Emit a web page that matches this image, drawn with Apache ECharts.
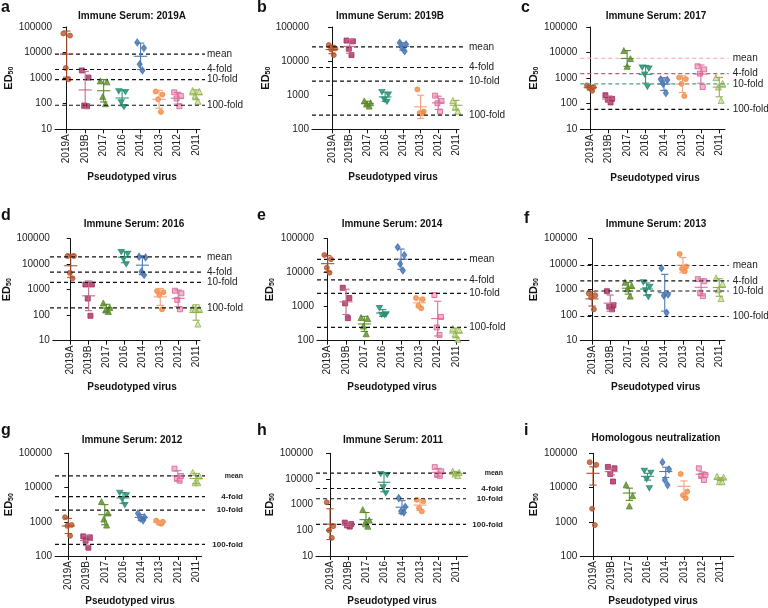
<!DOCTYPE html>
<html>
<head>
  <meta charset="utf-8" />
  <title>ED50 neutralization panels</title>
  <script src="https://cdn.jsdelivr.net/npm/echarts@6/dist/echarts.min.js"></script>
  <style>
    html, body { margin: 0; padding: 0; background: #fff; }
    #main { width: 768px; height: 608px; }
  </style>
</head>
<body>
  <div id="main"></div>
  <script type="text/javascript">
    const viruses = ['2019A', '2019B', '2017', '2016', '2014', '2013', '2012', '2011'];
    const panelLetters = ['a', 'b', 'c', 'd', 'e', 'f', 'g', 'h', 'i'];
    const panelTitles = ['Immune Serum: 2019A', 'Immune Serum: 2019B', 'Immune Serum: 2017',
      'Immune Serum: 2016', 'Immune Serum: 2014', 'Immune Serum: 2013',
      'Immune Serum: 2012', 'Immune Serum: 2011', 'Homologous neutralization'];
    const refLabels = ['mean', '4-fold', '10-fold', '100-fold'];
    const refFolds = [1, 4, 10, 100];
    // homologous mean per serum panel (null = no reference lines)
    const refMeans = [8700, 26000, 6000, 19500, 24700, 8900, 21800, 17000, null];

    // ED50 per pseudotyped virus (same order as viruses)
    const serum2019A = [[56000, 46000, 2500, 900], [2000, 1050, 85, 80], [780, 720, 190, 100], [310, 290, 115, 75],
      [25000, 15000, 3500, 2000], [300, 230, 150, 48], [280, 200, 160, 80], [330, 300, 205, 124]];
    const serum2019B = [[29500, 23500, 22000, 15000], [40000, 38000, 23000, 15000], [680, 600, 550, 480], [1250, 1050, 750, 640],
      [34500, 31000, 25000, 19500], [1480, 330, 300, 295], [970, 680, 580, 330], [700, 620, 450, 340]];
    const serum2017 = [[520, 450, 420, 320], [215, 155, 145, 112], [12000, 5800, 2900], [2600, 2400, 1400, 460],
      [900, 850, 600, 260], [1050, 920, 600, 200], [2900, 2200, 1500, 450], [1050, 620, 450, 135]];
    const serum2016 = [[21000, 21000, 4600, 2800], [1600, 1600, 450, 95], [300, 200, 160, 140], [30000, 26000, 16000, 10000],
      [19700, 18500, 5100, 3800], [890, 800, 620, 170], [910, 720, 400, 170], [190, 180, 170, 45]];
    const serum2014 = [[33000, 25000, 14000, 10000], [3600, 1800, 1250, 460], [480, 450, 270, 160], [920, 600, 580, 570],
      [56000, 33000, 18000, 11700], [1800, 1650, 1070, 900], [2200, 500, 245, 148], [230, 205, 158, 110]];
    const serum2013 = [[720, 600, 500, 170], [870, 245, 215, 170], [1950, 1450, 1080, 560], [1950, 1300, 960, 520],
      [7000, 650, 590, 125], [25000, 8100, 6500, 5300], [2600, 2150, 760, 560], [2900, 1700, 1000, 450]];
    const serum2012 = [[1350, 810, 760, 390], [375, 350, 280, 175], [3900, 1800, 1200, 800], [7100, 6000, 4600, 3100],
      [1750, 1350, 1250, 1100], [1080, 1000, 930, 880], [35600, 21700, 18600, 15800], [27500, 21700, 13800, 13800]];
    const serum2011 = [[1240, 145, 100, 51], [200, 175, 155, 140], [640, 250, 200, 145], [15800, 14500, 4800, 2800],
      [1800, 820, 550, 500], [1550, 1350, 740, 550], [29000, 19700, 14500, 13200], [20000, 18000, 15500, 13500]];
    const homologous = [[55000, 46000, 2400, 800], [40000, 36500, 25000, 15000], [12000, 5800, 2900], [31000, 27000, 17500, 9600],
      [55000, 34000, 16600, 11800], [25000, 7600, 6000, 4900], [36500, 23300, 21700, 16600], [21000, 20000, 14800, 14800]];

    const panelData = [serum2019A, serum2019B, serum2017, serum2016, serum2014, serum2013, serum2012, serum2011, homologous];
    const yMins = [10, 100, 10, 10, 100, 10, 100, 10, 100];

    // styling
    const FONT = '"Liberation Sans", Arial, sans-serif';
    const pointColors = ['#b4572e', '#a52a5e', '#5b8a2b', '#1e8c6e', '#3d6fb2', '#f28a3a', '#d95c90', '#8db24a'];
    const pointFills = ['#b4572e', '#a52a5e', '#5b8a2b', '#1e8c6e', '#3d6fb2', '#f28a3a', '#efa3c2', '#c9de98'];
    const barColors = ['#b0502a', '#c26a8c', '#5b8a2b', '#35907a', '#5078b0', '#f3a07e', '#d8709a', '#90b050'];
    const symbols = ['circle', 'rect', 'triangle', 'path://M0,0L10,0L5,9Z', 'diamond', 'circle', 'rect', 'triangle'];
    const symbolSizes = [5, 5, 6, [6, 5], [5, 7], 5, 5, 6];
    const jitter = [-0.18, 0.18, -0.05, 0.1];
    const refColorsC = ['#f7a1b5', '#e8457a', '#4ca07a', '#000'];

    // pixel layout of each panel
    const layout = [
      { L: 55, R: 200, c0: 66.7, c7: 196, T: 27, B: 129.3, gap: 37, lineEnd: 205, labX: 207, tx: 132, ty: 16, lx: 1, ly: 7.5, nx: 132, ny: 177 },
      { L: 312, R: 459, c0: 332, c7: 456, T: 27, B: 129.3, gap: 38, lineEnd: 464, labX: 469, tx: 390, ty: 16, lx: 257, ly: 7.5, nx: 393, ny: 177.7 },
      { L: 580.3, R: 725, c0: 590.3, c7: 719.3, T: 27, B: 129.3, gap: 40, lineEnd: 728.7, labX: 732.7, tx: 656, ty: 16, lx: 521, ly: 7.5, nx: 655, ny: 178 },
      { L: 50, R: 200, c0: 68.3, c7: 196, T: 238.7, B: 340.7, gap: 32, lineEnd: 204, labX: 207, tx: 134, ty: 224.3, lx: 1, ly: 215.5, nx: 132, ny: 387.7 },
      { L: 317, R: 469, c0: 327.7, c7: 456, T: 238.7, B: 340.7, gap: 41, lineEnd: 466.7, labX: 469.3, tx: 392, ty: 224.3, lx: 257, ly: 215.5, nx: 392, ny: 387.7 },
      { L: 580.3, R: 725, c0: 592, c7: 719.3, T: 238.7, B: 340.7, gap: 40, lineEnd: 728.7, labX: 732.7, tx: 656, ty: 224.3, lx: 524, ly: 219, nx: 655.7, ny: 387.7 },
      { L: 55, R: 201.7, c0: 68.3, c7: 196, T: 453.3, B: 556, gap: 37, lineEnd: 205, labRight: 243, tx: 132, ty: 440, lx: 1, ly: 430.5, nx: 130, ny: 601.7 },
      { L: 316, R: 467.7, c0: 330, c7: 456, T: 453.3, B: 556, gap: 39, lineEnd: 466, labRight: 503, tx: 393, ty: 440, lx: 257, ly: 430.5, nx: 392, ny: 601.7 },
      { L: 580.3, R: 733.7, c0: 593, c7: 720.3, T: 453.3, B: 556, gap: 36, tx: 656, ty: 438, lx: 524, ly: 430.5, nx: 653, ny: 601.7 }
    ];

    function stats(vals, homol) {
      const n = vals.length;
      if (homol) {
        // mean +/- SEM
        const m = vals.reduce((a, b) => a + b, 0) / n;
        const sd = Math.sqrt(vals.reduce((a, b) => a + (b - m) * (b - m), 0) / (n - 1));
        const sem = sd / Math.sqrt(n);
        return [m, m - sem, m + sem];
      }
      // geometric mean +/- geometric SD
      const lg = vals.map(v => Math.log10(v));
      const m = lg.reduce((a, b) => a + b, 0) / n;
      const sd = Math.sqrt(lg.reduce((a, b) => a + (b - m) * (b - m), 0) / (n - 1));
      return [Math.pow(10, m), Math.pow(10, m - sd), Math.pow(10, m + sd)];
    }

    const grids = [], xAxes = [], yAxes = [], series = [], graphics = [];
    const ticks = [0, 1, 2, 3, 4, 5, 6, 7];

    panelData.forEach((data, p) => {
      const g = layout[p];
      const s = (g.c7 - g.c0) / 7;
      const xmin = (g.L - g.c0) / s;
      const xmax = (g.R - g.c0) / s;

      grids.push({ left: g.L, top: g.T, width: g.R - g.L, height: g.B - g.T });
      xAxes.push({
        type: 'value', gridIndex: p, min: xmin, max: xmax,
        axisLine: { show: true, lineStyle: { color: '#111', width: 1 } },
        axisTick: { show: true, customValues: ticks, length: 4, lineStyle: { color: '#111' } },
        axisLabel: {
          customValues: ticks, formatter: v => viruses[Math.round(v)],
          rotate: 90, fontSize: 10, color: '#222', margin: 5, fontFamily: FONT
        },
        splitLine: { show: false }
      });
      yAxes.push({
        type: 'log', logBase: 10, gridIndex: p, min: yMins[p], max: 100000,
        axisLine: { show: true, lineStyle: { color: '#111', width: 1 } },
        axisTick: { show: true, length: 4, lineStyle: { color: '#111' } },
        axisLabel: { fontSize: 10, color: '#222', margin: 3, fontFamily: FONT, formatter: v => String(Math.round(v)) },
        splitLine: { show: false },
        name: '{a|ED}{b|50}', nameLocation: 'middle', nameGap: g.gap, nameRotate: 90,
        nameTextStyle: {
          rich: {
            a: { fontSize: 11, fontWeight: 'bold', color: '#111', fontFamily: FONT },
            b: { fontSize: 7, fontWeight: 'bold', color: '#111', fontFamily: FONT, padding: [5, 0, 0, 0] }
          }
        }
      });

      // individual points
      const pts = [];
      data.forEach((vals, c) => {
        vals.forEach((v, k) => {
          pts.push({
            value: [c + jitter[k % jitter.length] * (vals.length === 3 && k === 2 ? 0 : 1), v],
            symbol: symbols[c], symbolSize: symbolSizes[c],
            itemStyle: { color: pointFills[c], borderColor: pointColors[c], borderWidth: 1 }
          });
        });
      });
      series.push({ type: 'scatter', xAxisIndex: p, yAxisIndex: p, data: pts, silent: true, z: 2 });

      // mean and error bars
      const barData = data.map((vals, c) => [c].concat(stats(vals, p === 8)));
      series.push({
        type: 'custom', xAxisIndex: p, yAxisIndex: p, z: 4, silent: true,
        data: barData,
        renderItem: (params, api) => {
          const c = api.value(0);
          const pm = api.coord([c, api.value(1)]);
          const pl = api.coord([c, api.value(2)]);
          const ph = api.coord([c, api.value(3)]);
          const col = barColors[c];
          const st = { stroke: col, lineWidth: 1.1 };
          const mw = 0.36 * s, cw = 0.2 * s;
          return {
            type: 'group', children: [
              { type: 'line', shape: { x1: pm[0] - mw, y1: pm[1], x2: pm[0] + mw, y2: pm[1] }, style: st },
              { type: 'line', shape: { x1: pm[0], y1: pl[1], x2: pm[0], y2: ph[1] }, style: st },
              { type: 'line', shape: { x1: pm[0] - cw, y1: pl[1], x2: pm[0] + cw, y2: pl[1] }, style: st },
              { type: 'line', shape: { x1: pm[0] - cw, y1: ph[1], x2: pm[0] + cw, y2: ph[1] }, style: st }
            ]
          };
        }
      });

      // reference lines
      if (refMeans[p] !== null) {
        const small = g.labRight !== undefined;
        series.push({
          type: 'custom', xAxisIndex: p, yAxisIndex: p, z: 3, silent: true,
          data: refFolds.map((f, i) => [refMeans[p] / f, i]),
          renderItem: (params, api) => {
            const y = api.coord([0, api.value(0)])[1];
            const i = api.value(1);
            const col = p === 2 ? refColorsC[i] : '#111';
            const txt = small
              ? { text: refLabels[i], x: g.labRight, y: y, fill: '#222', font: 'bold ' + (i === 0 ? 7 : 8) + 'px ' + FONT,
                  align: 'right', textAlign: 'right', verticalAlign: 'middle', textVerticalAlign: 'middle' }
              : { text: refLabels[i], x: g.labX, y: y, fill: '#222', font: '10px ' + FONT,
                  align: 'left', textAlign: 'left', verticalAlign: 'middle', textVerticalAlign: 'middle' };
            return {
              type: 'group', children: [
                { type: 'line', shape: { x1: g.L, y1: y, x2: g.lineEnd, y2: y },
                  style: { stroke: col, lineWidth: 1.2, lineDash: [4, 3] } },
                { type: 'text', style: txt }
              ]
            };
          }
        });
      }

      // titles, letters, x axis names
      graphics.push({ type: 'text', x: g.tx, y: g.ty,
        style: { text: panelTitles[p], font: 'bold 10px ' + FONT, fill: '#111', align: 'center', verticalAlign: 'middle', textAlign: 'center', textVerticalAlign: 'middle' } });
      graphics.push({ type: 'text', x: g.lx, y: g.ly,
        style: { text: panelLetters[p], font: 'bold 16px ' + FONT, fill: '#111', align: 'left', verticalAlign: 'middle', textAlign: 'left', textVerticalAlign: 'middle' } });
      graphics.push({ type: 'text', x: g.nx, y: g.ny,
        style: { text: 'Pseudotyped virus', font: 'bold 10px ' + FONT, fill: '#111', align: 'center', verticalAlign: 'middle', textAlign: 'center', textVerticalAlign: 'middle' } });
    });

    const chart = echarts.init(document.getElementById('main'));
    chart.setOption({
      animation: false,
      backgroundColor: '#fff',
      grid: grids,
      xAxis: xAxes,
      yAxis: yAxes,
      series: series,
      graphic: graphics
    });
  </script>
</body>
</html>
